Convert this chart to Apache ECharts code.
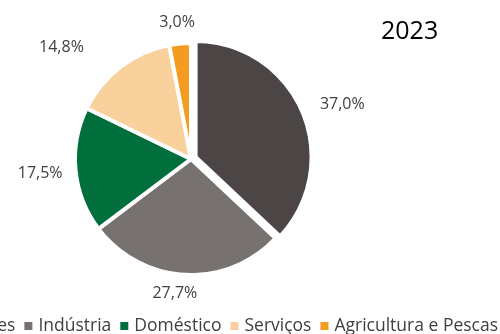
<!DOCTYPE html>
<html>
<head>
<meta charset="utf-8">
<script src="https://cdn.jsdelivr.net/npm/echarts@6/dist/echarts.min.js"></script>
<style>
  html, body { margin: 0; padding: 0; background: #ffffff; }
  #chart { width: 500px; height: 334px; }
</style>
</head>
<body>
<div id="chart"></div>
<script>
// Consumo por sector, 2023 (%)
const year = '2023';
const sectors = ['Transportes', 'Indústria', 'Doméstico', 'Serviços', 'Agricultura e Pescas'];
const shares = [37.0, 27.7, 17.5, 14.8, 3.0];

// presentation
const sectorColors = ['#4b4645', '#777170', '#006f3b', '#f9d19d', '#f49c22'];
const labelLines = [
  { length: 14, length2: 0 },
  { length: 10, length2: 0 },
  { length: 8, length2: 0 },
  { length: 24, length2: 26 },
  { length: 12, length2: 8 }
];
// small nudges so the value labels sit clear of each other
const labelNudge = [
  [0, -1],
  [18, 9],
  [0, 2],
  [9, 0],
  [29, -9]
];

const fontFamily = '"Open Sans", "Noto Sans", sans-serif';
const fmt = v => v.toFixed(1).replace('.', ',') + '%';

const chart = echarts.init(document.getElementById('chart'), null, { renderer: 'canvas' });

chart.setOption({
  backgroundColor: '#ffffff',
  animation: false,
  title: {
    text: year,
    left: 376,
    top: 14,
    textStyle: { fontFamily, fontSize: 25, fontWeight: 'normal', color: '#000000' }
  },
  legend: {
    data: sectors,
    orient: 'horizontal',
    left: -104,
    top: 312,
    width: 800,
    itemWidth: 10,
    itemHeight: 10,
    itemGap: 7,
    icon: 'rect',
    textStyle: { fontFamily, fontSize: 17.5, color: '#404040' }
  },
  series: [{
    type: 'pie',
    center: [191, 159],
    radius: [0, 116],
    startAngle: 90,
    clockwise: true,
    selectedMode: 'single',
    selectedOffset: 5,
    avoidLabelOverlap: false,
    itemStyle: { borderColor: '#ffffff', borderWidth: 4 },
    label: {
      show: true,
      position: 'outside',
      fontFamily,
      fontSize: 16,
      color: '#404040',
      formatter: p => fmt(p.value)
    },
    labelLine: { show: false },
    labelLayout: p => ({ dx: labelNudge[p.dataIndex][0], dy: labelNudge[p.dataIndex][1] }),
    emphasis: { disabled: true },
    data: sectors.map((name, i) => ({
      name,
      value: shares[i],
      selected: i === 0,
      itemStyle: { color: sectorColors[i] },
      labelLine: labelLines[i]
    }))
  }]
});
</script>
</body>
</html>
